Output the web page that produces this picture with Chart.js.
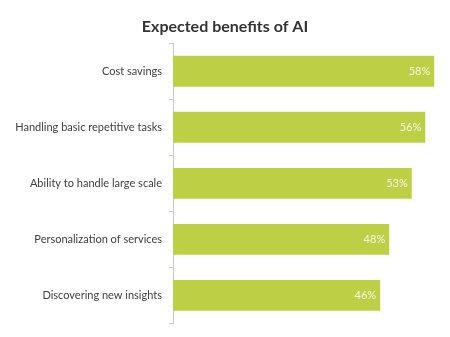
<!DOCTYPE html>
<html>
<head>
<meta charset="utf-8">
<style>
  html, body { margin: 0; padding: 0; background: #ffffff; }
  #chart { width: 450px; height: 337px; }
</style>
<script src="https://cdn.jsdelivr.net/npm/chart.js@4/dist/chart.umd.min.js"></script>
</head>
<body>
<div id="chart"><canvas id="c" width="450" height="337"></canvas></div>
<script>
// chart data
const categories = [
  "Cost savings",
  "Handling basic repetitive tasks",
  "Ability to handle large scale",
  "Personalization of services",
  "Discovering new insights",
];
const shares = [58, 56, 53, 48, 46];
const valueLabels = ["58%", "56%", "53%", "48%", "46%"];

const barColor = "#bdcf45";
const fontFamily = "Lato, 'Open Sans', sans-serif";

// white value labels drawn inside the end of each bar
const barValueLabels = {
  id: "barValueLabels",
  afterDatasetsDraw(chart) {
    const ctx = chart.ctx;
    const meta = chart.getDatasetMeta(0);
    ctx.save();
    ctx.font = "11px " + fontFamily;
    ctx.fillStyle = "#f4f7e6";
    ctx.textAlign = "right";
    ctx.textBaseline = "middle";
    meta.data.forEach((bar, i) => {
      ctx.fillText(valueLabels[i], bar.x - 4, bar.y);
    });
    ctx.restore();
  }
};

new Chart(document.getElementById("c"), {
  type: "bar",
  data: {
    labels: categories,
    datasets: [{
      data: shares,
      backgroundColor: barColor,
      borderWidth: 0,
      categoryPercentage: 0.55,
      barPercentage: 1.0,
    }]
  },
  plugins: [barValueLabels],
  options: {
    indexAxis: "y",
    responsive: false,
    animation: false,
    layout: { padding: { left: 0, right: 0, top: 0, bottom: 12 } },
    plugins: {
      legend: { display: false },
      tooltip: { enabled: false },
      title: {
        display: true,
        text: "Expected benefits of AI",
        color: "#333333",
        font: { family: fontFamily, size: 16, weight: "bold" },
        padding: { top: 17, bottom: 7 },
      },
    },
    scales: {
      x: {
        display: false,
        min: 0,
        max: 61.5,
      },
      y: {
        afterFit(scale) { scale.width = 173; },
        grid: {
          display: true,
          drawOnChartArea: false,
          drawTicks: true,
          tickLength: 4,
          color: "#c8c8c8",
          offset: true,
        },
        border: { display: true, color: "#c8c8c8", width: 1 },
        ticks: {
          color: "#404040",
          font: { family: fontFamily, size: 11 },
          padding: 7,
        },
      },
    },
  },
});
</script>
</body>
</html>
